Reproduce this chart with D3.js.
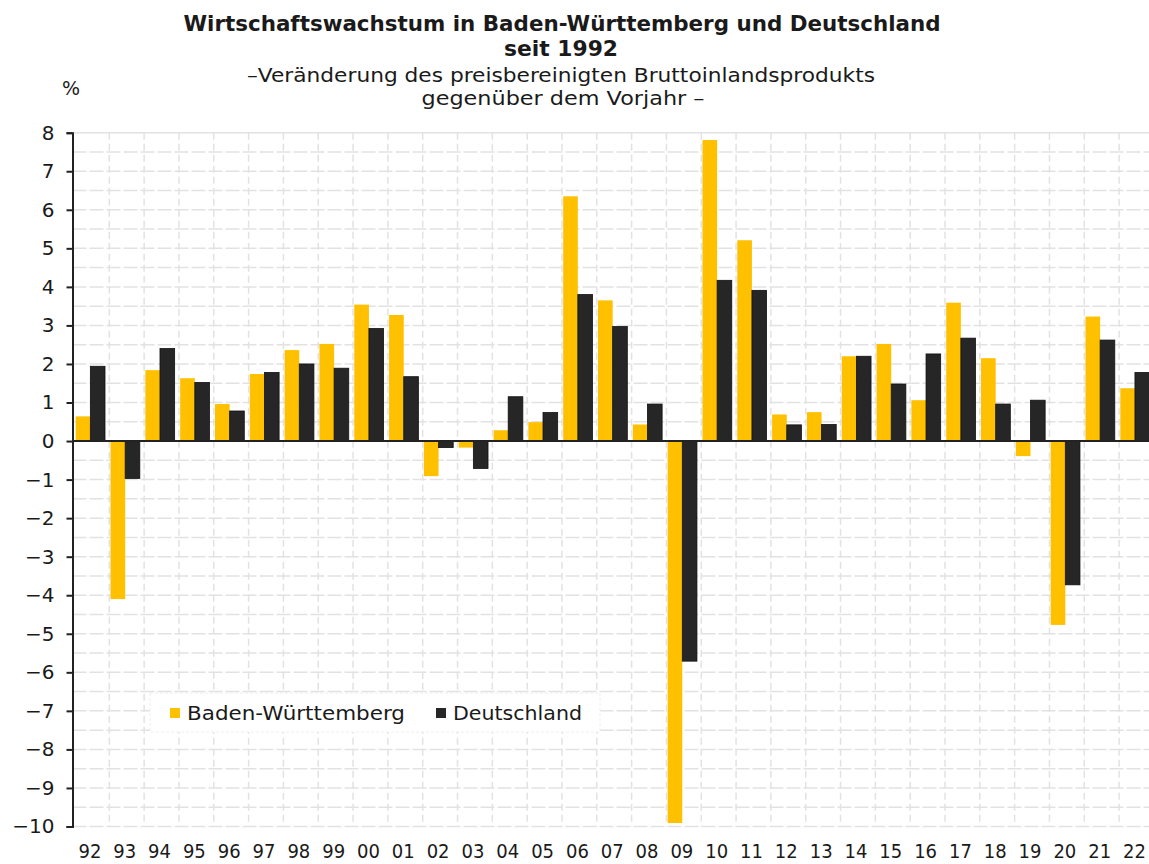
<!DOCTYPE html>
<html>
<head>
<meta charset="utf-8">
<script src="https://cdn.jsdelivr.net/npm/d3@7"></script>
<style>
  body { margin: 0; background: #fff; }
  text { font-family: "DejaVu Sans", Verdana, sans-serif; fill: #1a1a1a; }
</style>
</head>
<body>
<div id="chart"></div>
<script>
// data
var years = ["92","93","94","95","96","97","98","99","00","01","02","03","04","05","06",
             "07","08","09","10","11","12","13","14","15","16","17","18","19","20","21","22"];
var seriesNames = ["Baden-Württemberg", "Deutschland"];
var bwValues = [0.64,-4.10,1.84,1.63,0.96,1.74,2.36,2.52,3.54,3.27,-0.91,-0.17,0.28,0.49,6.35,
                3.65,0.43,-9.91,7.81,5.21,0.69,0.75,2.20,2.52,1.06,3.59,2.15,-0.39,-4.77,3.23,1.37];
var deValues = [1.94,-0.97,2.40,1.52,0.78,1.78,2.00,1.89,2.92,1.67,-0.17,-0.71,1.15,0.74,3.80,
                2.97,0.96,-5.71,4.17,3.91,0.42,0.43,2.20,1.48,2.26,2.67,0.96,1.06,-3.73,2.62,1.78];
var yTicks = d3.range(-10, 9, 1);
var colors = {"Baden-Württemberg": "#FFC000", "Deutschland": "#262626"};

var W = 1149, H = 864;
var axisX = 72.5;

var svg = d3.select("#chart").append("svg")
    .attr("width", W)
    .attr("height", H);

// scales
var y = d3.scaleLinear().domain([-10, 8]).range([826.5, 132.7]);
var x = d3.scaleBand().domain(years).range([74.5, 74.5 + years.length * 34.82]).padding(0);
var x1 = d3.scaleBand().domain(seriesNames).range([1.2, 30.5]).padding(0);

// grid: horizontal every 0.5
var halfSteps = d3.range(-10, 8.01, 0.5).filter(function (v) { return v !== 0; });
svg.append("g").selectAll("line")
    .data(halfSteps)
    .enter().append("line")
    .attr("x1", axisX).attr("x2", W)
    .attr("y1", function (d) { return y(d); })
    .attr("y2", function (d) { return y(d); })
    .attr("stroke", "#e2e2e2")
    .attr("stroke-width", 1.5)
    .attr("stroke-dasharray", function (d) { return d === 8 ? null : "14,3"; });

// grid: vertical at category boundaries
svg.append("g").selectAll("line")
    .data(years.slice(1))
    .enter().append("line")
    .attr("x1", function (d) { return x(d); })
    .attr("x2", function (d) { return x(d); })
    .attr("y1", y(8)).attr("y2", y(-10))
    .attr("stroke", "#e2e2e2")
    .attr("stroke-width", 1.5)
    .attr("stroke-dasharray", "7,4");

// bars
var rows = years.map(function (yr, i) {
    return {year: yr, values: [
        {key: seriesNames[0], value: bwValues[i]},
        {key: seriesNames[1], value: deValues[i]}
    ]};
});

var groups = svg.append("g").selectAll("g")
    .data(rows)
    .enter().append("g")
    .attr("transform", function (d) { return "translate(" + x(d.year) + ",0)"; });

groups.selectAll("rect")
    .data(function (d) { return d.values; })
    .enter().append("rect")
    .attr("x", function (d) { return x1(d.key); })
    .attr("width", x1.bandwidth())
    .attr("y", function (d) { return y(Math.max(0, d.value)); })
    .attr("height", function (d) { return Math.abs(y(d.value) - y(0)); })
    .attr("fill", function (d) { return colors[d.key]; })
    .attr("stroke", function (d) { return d.key === "Deutschland" ? "#111" : "none"; })
    .attr("stroke-width", 0.8);

// zero line
svg.append("line")
    .attr("x1", axisX).attr("x2", W)
    .attr("y1", y(0)).attr("y2", y(0))
    .attr("stroke", "#222")
    .attr("stroke-width", 2);

// y axis
var yAxis = svg.append("g")
    .attr("transform", "translate(" + axisX + ",0)")
    .call(d3.axisLeft(y).tickValues(yTicks).tickSize(6).tickPadding(12).tickSizeOuter(6));
yAxis.select(".domain").attr("stroke", "#222").attr("stroke-width", 2);
yAxis.selectAll(".tick line").attr("stroke", "#222").attr("stroke-width", 2);
yAxis.selectAll("text").style("font-size", "20px").attr("fill", "#1a1a1a");

// x axis labels
var xAxis = svg.append("g")
    .attr("transform", "translate(-2," + y(-10) + ")")
    .call(d3.axisBottom(x).tickSize(0).tickPadding(17));
xAxis.select(".domain").remove();
xAxis.selectAll("text").style("font-size", "20px").attr("fill", "#1a1a1a")
    .attr("transform", "scale(0.9,1)");

// titles
var cx = 562;
svg.append("text").attr("x", cx).attr("y", 31).attr("text-anchor", "middle")
    .style("font-size", "21px").style("font-weight", "bold")
    .attr("textLength", 757).attr("lengthAdjust", "spacingAndGlyphs")
    .text("Wirtschaftswachstum in Baden-Württemberg und Deutschland");
svg.append("text").attr("x", 561).attr("y", 56).attr("text-anchor", "middle")
    .style("font-size", "21px").style("font-weight", "bold")
    .attr("textLength", 114).attr("lengthAdjust", "spacingAndGlyphs")
    .text("seit 1992");
svg.append("text").attr("x", 561).attr("y", 82).attr("text-anchor", "middle")
    .style("font-size", "20px")
    .attr("textLength", 628).attr("lengthAdjust", "spacingAndGlyphs")
    .text("–Veränderung des preisbereinigten Bruttoinlandsprodukts");
svg.append("text").attr("x", 563).attr("y", 105).attr("text-anchor", "middle")
    .style("font-size", "20px")
    .attr("textLength", 283).attr("lengthAdjust", "spacingAndGlyphs")
    .text("gegenüber dem Vorjahr –");
svg.append("text").attr("x", 62).attr("y", 95)
    .style("font-size", "19px")
    .text("%");

// legend
var legend = svg.append("g");
legend.append("rect")
    .attr("x", 150).attr("y", 693).attr("width", 450).attr("height", 39)
    .attr("fill", "#fff")
    .attr("stroke", "#eee").attr("stroke-dasharray", "3,2");
var legendItems = [
    {key: seriesNames[0], sx: 170, tx: 187, tw: 218},
    {key: seriesNames[1], sx: 436, tx: 453, tw: 129}
];
legendItems.forEach(function (it) {
    legend.append("rect")
        .attr("x", it.sx).attr("y", 708).attr("width", 10).attr("height", 10)
        .attr("fill", colors[it.key]);
    legend.append("text")
        .attr("x", it.tx).attr("y", 720)
        .style("font-size", "20px")
        .attr("textLength", it.tw).attr("lengthAdjust", "spacingAndGlyphs")
        .text(it.key);
});
</script>
</body>
</html>
